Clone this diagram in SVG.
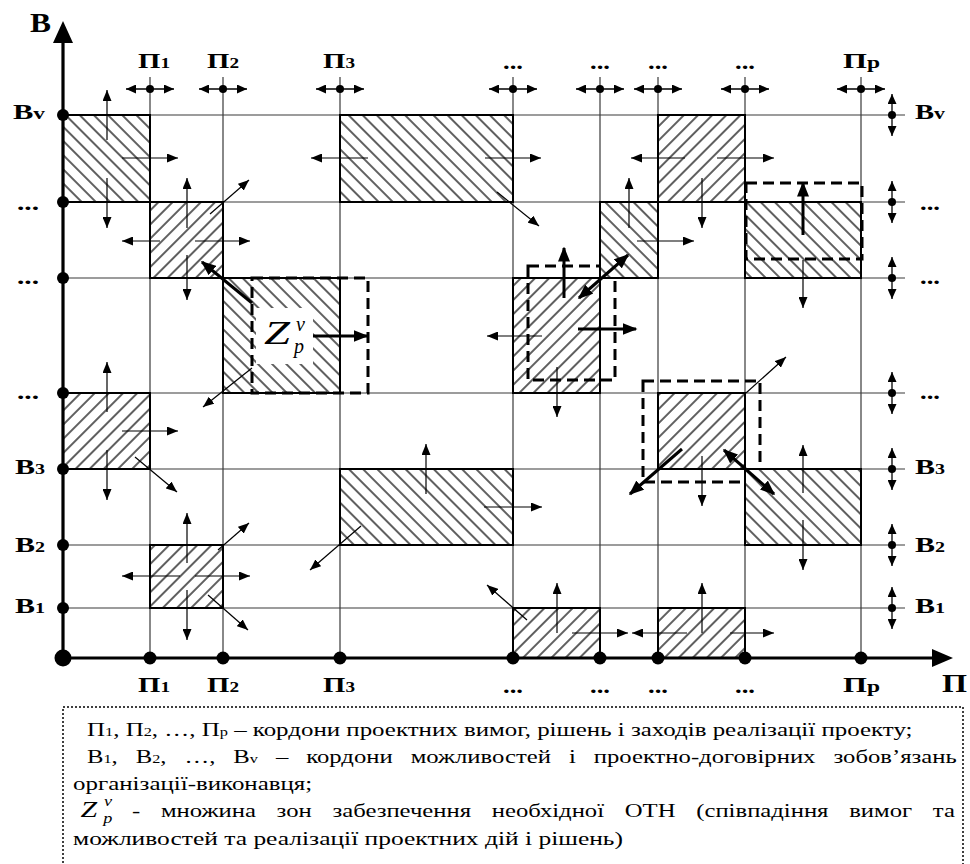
<svg xmlns="http://www.w3.org/2000/svg" width="970" height="864" viewBox="0 0 970 864">
<style>
.grid{stroke:#3a3a3a;stroke-width:1.2;fill:none}
.zone{stroke:#000;stroke-width:2}
.dash{fill:none;stroke:#000;stroke-width:3;stroke-dasharray:11 6}
.t{fill:none;stroke:#000;stroke-width:1.2;marker-end:url(#ah)}
.T{fill:none;stroke:#000;stroke-width:3;marker-end:url(#AH)}
.d{fill:none;stroke:#000;stroke-width:1.3;marker-start:url(#sh);marker-end:url(#sh)}
.lbl{font-family:"Liberation Serif","Times New Roman",serif;font-weight:bold;font-size:21px;fill:#000}
.leg{font-family:"Liberation Serif","Times New Roman",serif;font-size:19px;fill:#000}
.it{font-family:"Liberation Serif","Times New Roman",serif;font-style:italic;fill:#000}
</style>
<defs>
<pattern id="hb" patternUnits="userSpaceOnUse" width="10" height="10" patternTransform="rotate(-45)"><rect width="10" height="10" fill="#fff"/><line x1="5" y1="-1" x2="5" y2="11" stroke="#2a2a2a" stroke-width="1.5"/></pattern>
<pattern id="hf" patternUnits="userSpaceOnUse" width="10" height="10" patternTransform="rotate(45)"><rect width="10" height="10" fill="#fff"/><line x1="5" y1="-1" x2="5" y2="11" stroke="#2a2a2a" stroke-width="1.5"/></pattern>
<marker id="ah" viewBox="0 0 10 10" refX="10" refY="5" markerWidth="11" markerHeight="9" markerUnits="userSpaceOnUse" orient="auto" preserveAspectRatio="none"><path d="M0,0 L10,5 L0,10 z" fill="#000"/></marker>
<marker id="AH" viewBox="0 0 10 10" refX="9" refY="5" markerWidth="15" markerHeight="12" markerUnits="userSpaceOnUse" orient="auto-start-reverse" preserveAspectRatio="none"><path d="M0,0 L10,5 L0,10 z" fill="#000"/></marker>
<marker id="sh" viewBox="0 0 10 10" refX="10" refY="5" markerWidth="10" markerHeight="9" markerUnits="userSpaceOnUse" orient="auto-start-reverse" preserveAspectRatio="none"><path d="M0,0 L10,5 L0,10 z" fill="#000"/></marker>
</defs>
<rect width="970" height="864" fill="#fff"/>

<g id="grid" class="grid">
<path d="M150,77V658M223,77V658M340,77V658M513,77V658M600,77V658M658,77V658M745,77V658M861,77V658"/>
<path d="M63,115H905M63,202H905M63,278H905M63,393H905M63,469H905M63,545H905M63,608H905"/>
</g>

<g id="zones">
<g id="zone-1"><rect class="zone" x="63" y="115" width="87" height="87" fill="url(#hb)"/></g>
<g id="zone-2"><rect class="zone" x="150" y="202" width="73" height="76" fill="url(#hf)"/></g>
<g id="zone-3"><rect class="zone" x="223" y="278" width="117" height="115" fill="url(#hb)"/><rect x="256" y="308" width="57" height="56" fill="#fff"/><rect class="dash" x="252" y="278" width="116" height="115"/>
<text class="it" x="264" y="344" font-size="34" textLength="26" lengthAdjust="spacingAndGlyphs">Z</text><text class="it" x="296" y="331" font-size="20">v</text><text class="it" x="294" y="353" font-size="20">p</text></g>
<g id="zone-4"><rect class="zone" x="340" y="115" width="173" height="87" fill="url(#hb)"/></g>
<g id="zone-5"><rect class="zone" x="513" y="278" width="87" height="115" fill="url(#hf)"/><rect class="dash" x="528" y="266" width="87" height="114"/></g>
<g id="zone-6"><rect class="zone" x="600" y="202" width="58" height="76" fill="url(#hb)"/></g>
<g id="zone-7"><rect class="zone" x="658" y="115" width="87" height="87" fill="url(#hf)"/></g>
<g id="zone-8"><rect class="zone" x="745" y="202" width="116" height="76" fill="url(#hb)"/><rect class="dash" x="746" y="183" width="116" height="76"/></g>
<g id="zone-9"><rect class="zone" x="63" y="393" width="87" height="76" fill="url(#hf)"/></g>
<g id="zone-10"><rect class="zone" x="150" y="545" width="73" height="63" fill="url(#hf)"/></g>
<g id="zone-11"><rect class="zone" x="340" y="469" width="173" height="76" fill="url(#hb)"/></g>
<g id="zone-12"><rect class="zone" x="658" y="393" width="87" height="76" fill="url(#hf)"/><rect class="dash" x="643" y="381" width="117" height="101"/></g>
<g id="zone-13"><rect class="zone" x="745" y="469" width="116" height="76" fill="url(#hb)"/></g>
<g id="zone-14"><rect class="zone" x="513" y="608" width="87" height="50" fill="url(#hf)"/></g>
<g id="zone-15"><rect class="zone" x="658" y="608" width="87" height="50" fill="url(#hf)"/></g>
</g>

<g id="axes">
<path d="M63,658V40" stroke="#000" stroke-width="3.2"/>
<polygon points="63,21 53,43 73,43" fill="#000"/>
<path d="M63,658H934" stroke="#000" stroke-width="3.2"/>
<polygon points="953,658 932,649 932,667" fill="#000"/>
<g fill="#000">
<circle cx="63" cy="658" r="8.5"/>
<circle cx="63" cy="115" r="6"/><circle cx="63" cy="202" r="6"/><circle cx="63" cy="278" r="6"/><circle cx="63" cy="393" r="6"/><circle cx="63" cy="469" r="6"/><circle cx="63" cy="545" r="6"/><circle cx="63" cy="608" r="6"/>
<circle cx="150" cy="658" r="6.5"/><circle cx="223" cy="658" r="6.5"/><circle cx="340" cy="658" r="6.5"/><circle cx="513" cy="658" r="6.5"/><circle cx="600" cy="658" r="6.5"/><circle cx="658" cy="658" r="6.5"/><circle cx="745" cy="658" r="6.5"/><circle cx="861" cy="658" r="6.5"/>
</g>
</g>

<g id="boundary-markers">
<path class="d" d="M126,89H174"/><path class="d" d="M199,89H247"/><path class="d" d="M316,89H364"/><path class="d" d="M489,89H537"/><path class="d" d="M576,89H624"/><path class="d" d="M634,89H682"/><path class="d" d="M721,89H769"/><path class="d" d="M837,89H885"/>
<path class="d" d="M892,94V136"/><path class="d" d="M892,181V223"/><path class="d" d="M892,257V299"/><path class="d" d="M892,372V414"/><path class="d" d="M892,448V490"/><path class="d" d="M892,524V566"/><path class="d" d="M892,587V629"/>
<g fill="#000">
<circle cx="150" cy="89" r="4"/><circle cx="223" cy="89" r="4"/><circle cx="340" cy="89" r="4"/><circle cx="513" cy="89" r="4"/><circle cx="600" cy="89" r="4"/><circle cx="658" cy="89" r="4"/><circle cx="745" cy="89" r="4"/><circle cx="861" cy="89" r="4"/>
<circle cx="892" cy="115" r="4"/><circle cx="892" cy="202" r="4"/><circle cx="892" cy="278" r="4"/><circle cx="892" cy="393" r="4"/><circle cx="892" cy="469" r="4"/><circle cx="892" cy="545" r="4"/><circle cx="892" cy="608" r="4"/>
</g>
</g>

<g id="connectors">
<path class="t" d="M107,140V90"/><path class="t" d="M107,178V228"/><path class="t" d="M122,158H178"/>
<path class="t" d="M187,228V178"/><path class="t" d="M187,255V300"/><path class="t" d="M160,241H122"/><path class="t" d="M195,241H250"/><path class="t" d="M210,214L249,180"/>
<path class="t" d="M252,368L203,407"/>
<path class="t" d="M368,158H311"/><path class="t" d="M485,158H541"/><path class="t" d="M497,192L539,226"/>
<path class="t" d="M542,336H487"/><path class="t" d="M557,367V417"/>
<path class="t" d="M629,228V178"/><path class="t" d="M637,241H694"/>
<path class="t" d="M685,158H631"/><path class="t" d="M717,158H774"/><path class="t" d="M702,178V228"/>
<path class="t" d="M803,260V308"/>
<path class="t" d="M107,412V362"/><path class="t" d="M122,431H178"/><path class="t" d="M107,450V500"/><path class="t" d="M135,457L177,492"/>
<path class="t" d="M187,563V513"/><path class="t" d="M187,590V640"/><path class="t" d="M180,576H122"/><path class="t" d="M195,576H250"/><path class="t" d="M218,550L249,523"/><path class="t" d="M208,595L248,630"/>
<path class="t" d="M426,494V444"/><path class="t" d="M484,507H542"/><path class="t" d="M361,526L310,570"/>
<path class="t" d="M746,393L786,357"/><path class="t" d="M702,456V506"/>
<path class="t" d="M803,493V445"/><path class="t" d="M803,520V570"/>
<path class="t" d="M527,620L487,585"/><path class="t" d="M557,633V583"/><path class="t" d="M572,633H628"/>
<path class="t" d="M702,633V583"/><path class="t" d="M687,633H632"/><path class="t" d="M730,633H774"/>
<path class="T" d="M252,303L202,262"/>
<path class="T" d="M313,336H367"/>
<path class="T" d="M564,298V248"/>
<path class="T" d="M579,298L628,255" marker-start="url(#AH)"/>
<path class="T" d="M578,329H636" stroke-width="2.2"/>
<path class="T" d="M803,235V183"/>
<path class="T" d="M682,449L630,494"/>
<path class="T" d="M724,450L774,494" marker-start="url(#AH)"/>
</g>

<g id="labels" class="lbl">
<text x="30" y="32" font-size="28" textLength="21" lengthAdjust="spacingAndGlyphs">В</text>
<text x="942" y="692" font-size="26" textLength="25" lengthAdjust="spacingAndGlyphs">П</text>
<text x="138" y="68" textLength="32" lengthAdjust="spacingAndGlyphs">П<tspan font-size="14">1</tspan></text>
<text x="207" y="68" textLength="32" lengthAdjust="spacingAndGlyphs">П<tspan font-size="14">2</tspan></text>
<text x="323" y="68" textLength="32" lengthAdjust="spacingAndGlyphs">П<tspan font-size="14">3</tspan></text>
<text x="503" y="69" textLength="20" lengthAdjust="spacingAndGlyphs">...</text>
<text x="590" y="69" textLength="20" lengthAdjust="spacingAndGlyphs">...</text>
<text x="648" y="69" textLength="20" lengthAdjust="spacingAndGlyphs">...</text>
<text x="735" y="69" textLength="20" lengthAdjust="spacingAndGlyphs">...</text>
<text x="843" y="68" textLength="37" lengthAdjust="spacingAndGlyphs">П<tspan font-size="16">p</tspan></text>
<text x="138" y="692" textLength="32" lengthAdjust="spacingAndGlyphs">П<tspan font-size="14">1</tspan></text>
<text x="207" y="692" textLength="32" lengthAdjust="spacingAndGlyphs">П<tspan font-size="14">2</tspan></text>
<text x="323" y="692" textLength="32" lengthAdjust="spacingAndGlyphs">П<tspan font-size="14">3</tspan></text>
<text x="503" y="693" textLength="20" lengthAdjust="spacingAndGlyphs">...</text>
<text x="590" y="693" textLength="20" lengthAdjust="spacingAndGlyphs">...</text>
<text x="648" y="693" textLength="20" lengthAdjust="spacingAndGlyphs">...</text>
<text x="735" y="693" textLength="20" lengthAdjust="spacingAndGlyphs">...</text>
<text x="843" y="692" textLength="37" lengthAdjust="spacingAndGlyphs">П<tspan font-size="16">p</tspan></text>
<text x="13" y="119" textLength="32" lengthAdjust="spacingAndGlyphs">В<tspan font-size="16">v</tspan></text>
<text x="17" y="210" textLength="22" lengthAdjust="spacingAndGlyphs">...</text>
<text x="17" y="284" textLength="22" lengthAdjust="spacingAndGlyphs">...</text>
<text x="17" y="399" textLength="22" lengthAdjust="spacingAndGlyphs">...</text>
<text x="15" y="474" textLength="30" lengthAdjust="spacingAndGlyphs">В<tspan font-size="14">3</tspan></text>
<text x="15" y="552" textLength="30" lengthAdjust="spacingAndGlyphs">В<tspan font-size="14">2</tspan></text>
<text x="15" y="613" textLength="30" lengthAdjust="spacingAndGlyphs">В<tspan font-size="14">1</tspan></text>
<text x="915" y="119" textLength="30" lengthAdjust="spacingAndGlyphs">В<tspan font-size="16">v</tspan></text>
<text x="920" y="210" textLength="20" lengthAdjust="spacingAndGlyphs">...</text>
<text x="920" y="284" textLength="20" lengthAdjust="spacingAndGlyphs">...</text>
<text x="920" y="399" textLength="20" lengthAdjust="spacingAndGlyphs">...</text>
<text x="915" y="474" textLength="30" lengthAdjust="spacingAndGlyphs">В<tspan font-size="14">3</tspan></text>
<text x="915" y="552" textLength="30" lengthAdjust="spacingAndGlyphs">В<tspan font-size="14">2</tspan></text>
<text x="915" y="613" textLength="30" lengthAdjust="spacingAndGlyphs">В<tspan font-size="14">1</tspan></text>
</g>

<g id="legend">
<rect x="63" y="707" width="900" height="170" fill="none" stroke="#000" stroke-width="1.5" stroke-dasharray="2 2"/>
<g transform="scale(1.3,1)" class="leg">
<text x="66.9" y="736" textLength="635" lengthAdjust="spacingAndGlyphs">П<tspan font-size="12.5">1</tspan>, П<tspan font-size="12.5">2</tspan>, …, П<tspan font-size="12.5">p</tspan> – кордони проектних вимог, рішень і заходів реалізації проекту;</text>
<text x="66.9" y="763" word-spacing="9.1">В<tspan font-size="12.5">1</tspan>, В<tspan font-size="12.5">2</tspan>, …, В<tspan font-size="12.5">v</tspan> – кордони можливостей і проектно-договірних зобов’язань</text>
<text x="56.2" y="790" textLength="184" lengthAdjust="spacingAndGlyphs">організації-виконавця;</text>
<text class="it" x="62" y="817" font-size="23">Z</text><text class="it" x="80" y="806" font-size="14">v</text><text class="it" x="79.5" y="823" font-size="14">p</text>
<text x="101.5" y="817" word-spacing="11.2">- множина зон забезпечення необхідної ОТН (співпадіння вимог та</text>
<text x="56.2" y="845" textLength="423" lengthAdjust="spacingAndGlyphs">можливостей та реалізації проектних дій і рішень)</text>
</g>
</g>
</svg>
